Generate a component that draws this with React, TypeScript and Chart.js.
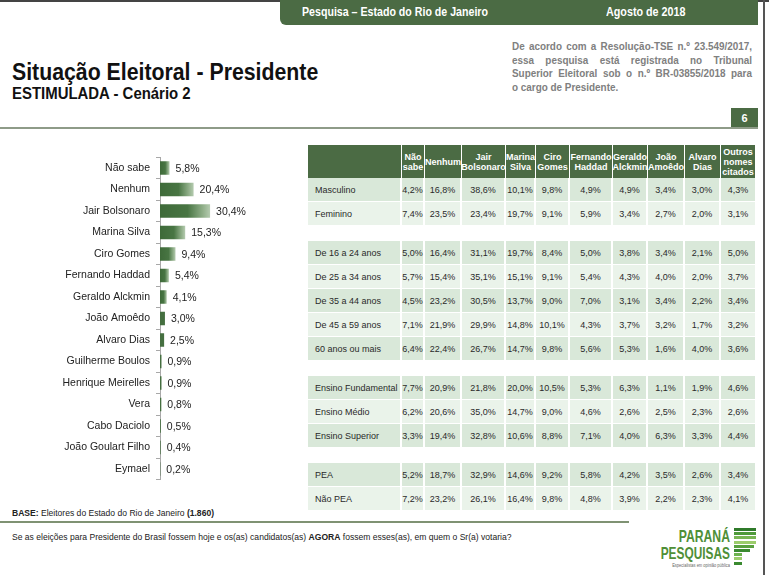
import React, { useEffect, useRef } from "react";
import { Chart, registerables } from "chart.js";

Chart.register(...registerables);

// ---------- DATA ----------
const candidates = [
  "Não sabe", "Nenhum", "Jair Bolsonaro", "Marina Silva", "Ciro Gomes",
  "Fernando Haddad", "Geraldo Alckmin", "João Amoêdo", "Alvaro Dias",
  "Guilherme Boulos", "Henrique Meirelles", "Vera", "Cabo Daciolo",
  "João Goulart Filho", "Eymael",
];
const totals = [5.8, 20.4, 30.4, 15.3, 9.4, 5.4, 4.1, 3.0, 2.5, 0.9, 0.9, 0.8, 0.5, 0.4, 0.2];

const tableHeaders = [
  "Não\nsabe", "Nenhum", "Jair\nBolsonaro", "Marina\nSilva", "Ciro\nGomes",
  "Fernando\nHaddad", "Geraldo\nAlckmin", "João\nAmoêdo", "Alvaro\nDias", "Outros\nnomes\ncitados",
];

const sexoLabels = ["Masculino", "Feminino"];
const sexoValues = [
  [4.2, 16.8, 38.6, 10.1, 9.8, 4.9, 4.9, 3.4, 3.0, 4.3],
  [7.4, 23.5, 23.4, 19.7, 9.1, 5.9, 3.4, 2.7, 2.0, 3.1],
];
const idadeLabels = ["De 16 a 24 anos", "De 25 a 34 anos", "De 35 a 44 anos", "De 45 a 59 anos", "60 anos ou mais"];
const idadeValues = [
  [5.0, 16.4, 31.1, 19.7, 8.4, 5.0, 3.8, 3.4, 2.1, 5.0],
  [5.7, 15.4, 35.1, 15.1, 9.1, 5.4, 4.3, 4.0, 2.0, 3.7],
  [4.5, 23.2, 30.5, 13.7, 9.0, 7.0, 3.1, 3.4, 2.2, 3.4],
  [7.1, 21.9, 29.9, 14.8, 10.1, 4.3, 3.7, 3.2, 1.7, 3.2],
  [6.4, 22.4, 26.7, 14.7, 9.8, 5.6, 5.3, 1.6, 4.0, 3.6],
];
const ensinoLabels = ["Ensino Fundamental", "Ensino Médio", "Ensino Superior"];
const ensinoValues = [
  [7.7, 20.9, 21.8, 20.0, 10.5, 5.3, 6.3, 1.1, 1.9, 4.6],
  [6.2, 20.6, 35.0, 14.7, 9.0, 4.6, 2.6, 2.5, 2.3, 2.6],
  [3.3, 19.4, 32.8, 10.6, 8.8, 7.1, 4.0, 6.3, 3.3, 4.4],
];
const peaLabels = ["PEA", "Não PEA"];
const peaValues = [
  [5.2, 18.7, 32.9, 14.6, 9.2, 5.8, 4.2, 3.5, 2.6, 3.4],
  [7.2, 23.2, 26.1, 16.4, 9.8, 4.8, 3.9, 2.2, 2.3, 4.1],
];

const groups = [
  { labels: sexoLabels, values: sexoValues },
  { labels: idadeLabels, values: idadeValues },
  { labels: ensinoLabels, values: ensinoValues },
  { labels: peaLabels, values: peaValues },
];

// ---------- STYLE ----------
const GREEN = "#4b6b44";
const SANS = '"Liberation Sans", Arial, sans-serif';
const colWidths = [94, 23, 37, 44, 30, 34, 43, 35, 37, 36, 34];
const TABLE_LEFT = 308;
const HEADER_TOP = 145;
const HEADER_H = 33;
const ROW_H = 24;
const GROUP_GAP = 15;

const fmt = (v: number) => v.toFixed(1).replace(".", ",") + "%";

function Squeezed(props: { left: number; top: number; size: number; sx: number; bold?: boolean; color?: string; lh?: number; origin?: string; children: React.ReactNode; style?: React.CSSProperties }) {
  return (
    <div
      style={{
        position: "absolute", left: props.left, top: props.top, fontFamily: SANS,
        fontWeight: props.bold ? "bold" : "normal", fontSize: props.size,
        lineHeight: `${props.lh ?? Math.round(props.size * 1.2)}px`, color: props.color ?? "#222",
        whiteSpace: "nowrap", transform: `scaleX(${props.sx})`, transformOrigin: props.origin ?? "left center",
        ...props.style,
      }}
    >
      {props.children}
    </div>
  );
}

function BarChart() {
  const ref = useRef<HTMLCanvasElement>(null);
  useEffect(() => {
    if (!ref.current) return;
    const valueLabels = {
      id: "valueLabels",
      afterDatasetsDraw(chart: any) {
        const ctx = chart.ctx;
        const meta = chart.getDatasetMeta(0);
        ctx.save();
        ctx.font = `10.5px ${SANS}`;
        ctx.fillStyle = "#222";
        ctx.textBaseline = "middle";
        ctx.textAlign = "left";
        meta.data.forEach((bar: any, i: number) => {
          ctx.fillText(fmt(totals[i]), bar.x + 6, bar.y + 1);
        });
        ctx.restore();
      },
    };
    const chart = new Chart(ref.current, {
      type: "bar",
      data: {
        labels: candidates,
        datasets: [
          {
            data: totals,
            borderWidth: 0,
            barPercentage: 0.63,
            categoryPercentage: 1,
            backgroundColor: (c: any) => {
              const ch = c.chart;
              if (!ch.chartArea || !ch.scales.x) return "#456f40";
              const xs = ch.scales.x;
              const s = xs.getPixelForValue(0);
              const e = xs.getPixelForValue(c.raw as number);
              if (e - s < 6) return "#456f40";
              const g = ch.ctx.createLinearGradient(s, 0, e, 0);
              g.addColorStop(0, "#3e6a39");
              g.addColorStop(0.55, "#487543");
              g.addColorStop(0.85, "#8fae88");
              g.addColorStop(1, "#b5cbb0");
              return g;
            },
          },
        ],
      },
      options: {
        indexAxis: "y",
        animation: false,
        responsive: false,
        maintainAspectRatio: false,
        layout: { padding: { top: 10, bottom: 8, left: 0, right: 0 } },
        plugins: { legend: { display: false }, tooltip: { enabled: false } },
        scales: {
          x: { display: false, min: 0, max: 85 },
          y: {
            afterFit: (s: any) => {
              s.width = 160;
            },
            grid: {
              display: true,
              drawOnChartArea: false,
              offset: true,
              tickLength: 4,
              color: "#a8a8a8",
            },
            border: { display: true, color: "#a8a8a8", width: 1 },
            ticks: {
              padding: 6,
              color: "#222",
              font: { size: 10.5, family: SANS },
            },
          },
        },
      },
      plugins: [valueLabels],
    });
    return () => chart.destroy();
  }, []);
  return (
    <canvas
      ref={ref}
      width={300}
      height={347}
      style={{ position: "absolute", left: 0, top: 145, width: 300, height: 347 }}
    />
  );
}

function DataTable() {
  const cells: React.ReactNode[] = [];
  let x = TABLE_LEFT;
  colWidths.forEach((w, ci) => {
    const text = ci === 0 ? "" : tableHeaders[ci - 1];
    cells.push(
      <div
        key={`h${ci}`}
        style={{
          position: "absolute", left: x, top: HEADER_TOP, width: w - (ci === colWidths.length - 1 ? 0 : 1),
          height: HEADER_H, background: GREEN, color: "#fff", fontFamily: SANS, fontWeight: "bold",
          fontSize: 9, lineHeight: "10px", display: "flex", alignItems: "center", justifyContent: "center",
          textAlign: "center", whiteSpace: "pre",
        }}
      >
        {text}
      </div>
    );
    x += w;
  });
  let y = HEADER_TOP + HEADER_H;
  groups.forEach((g, gi) => {
    g.labels.forEach((label, ri) => {
      const bg = ri % 2 === 0 ? "#d9e8d9" : "#eaf3ea";
      let cx = TABLE_LEFT;
      colWidths.forEach((w, ci) => {
        const txt = ci === 0 ? label : fmt(g.values[ri][ci - 1]);
        cells.push(
          <div
            key={`r${gi}-${ri}-${ci}`}
            style={{
              position: "absolute", left: cx, top: y, width: w - (ci === colWidths.length - 1 ? 0 : 2),
              height: ROW_H - 1, background: bg, color: "#2a2a2a", fontFamily: SANS, fontSize: 9,
              display: "flex", alignItems: "center", justifyContent: ci === 0 ? "flex-start" : "center",
              paddingLeft: ci === 0 ? 7 : 0, boxSizing: "border-box", whiteSpace: "nowrap",
            }}
          >
            {txt}
          </div>
        );
        cx += w;
      });
      y += ROW_H;
    });
    y += GROUP_GAP;
  });
  return <>{cells}</>;
}

function Logo() {
  const stripes = [
    { w: 22, c: "#2f7a2a" }, { w: 22, c: "#4f9a3a" }, { w: 22, c: "#79b654" },
    { w: 22, c: "#9ccc6c" }, { w: 20, c: "#5aa040" }, { w: 16, c: "#3a8a30" },
    { w: 8, c: "#6db24e" }, { w: 8, c: "#9ccc6c" }, { w: 8, c: "#3a8a30" },
  ];
  return (
    <>
      <Squeezed left={630} top={528} size={16.5} sx={0.74} bold color="#4f8f37" lh={16} origin="right center" style={{ width: 100, textAlign: "right" }}>
        PARANÁ
      </Squeezed>
      <Squeezed left={630} top={545} size={16.5} sx={0.72} bold color="#4f8f37" lh={16} origin="right center" style={{ width: 100, textAlign: "right" }}>
        PESQUISAS
      </Squeezed>
      <Squeezed left={630} top={563} size={5} sx={0.8} color="#666" lh={5} origin="right center" style={{ width: 100, textAlign: "right" }}>
        Especialistas em opinião pública
      </Squeezed>
      {stripes.map((s, i) => (
        <div key={i} style={{ position: "absolute", left: 734, top: 528 + i * 4.2, width: s.w, height: 3, background: s.c }} />
      ))}
    </>
  );
}

export default function App() {
  const paragraph = [
    "De acordo com a Resolução-TSE n.º 23.549/2017,",
    "essa pesquisa está registrada no Tribunal",
    "Superior Eleitoral sob o n.º BR-03855/2018 para",
    "o cargo de Presidente.",
  ];
  const pScale = 0.9;
  return (
    <div style={{ position: "fixed", left: 0, top: 0, width: 769, height: 575, background: "#fff", overflow: "hidden" }}>
      {/* frame */}
      <div style={{ position: "absolute", left: 0, top: 0, width: 769, height: 2, background: "#444" }} />
      <div style={{ position: "absolute", left: 763, top: 0, width: 2, height: 575, background: "#555" }} />
      {/* header tab */}
      <div style={{ position: "absolute", left: 280, top: 0, width: 478, height: 25, background: GREEN, borderBottomLeftRadius: 6 }} />
      <Squeezed left={302} top={5} size={12.5} sx={0.85} bold color="#fff" lh={15}>
        Pesquisa – Estado do Rio de Janeiro
      </Squeezed>
      <Squeezed left={606} top={5} size={12.5} sx={0.86} bold color="#fff" lh={15}>
        Agosto de 2018
      </Squeezed>
      {/* titles */}
      <Squeezed left={12} top={58} size={23} sx={0.925} bold color="#111" lh={28}>
        Situação Eleitoral - Presidente
      </Squeezed>
      <Squeezed left={12} top={84} size={16.5} sx={0.905} bold color="#111" lh={19}>
        ESTIMULADA - Cenário 2
      </Squeezed>
      {paragraph.map((line, i) => (
        <div
          key={i}
          style={{
            position: "absolute", left: 512, top: 39 + i * 13.5, width: 240 / pScale, fontFamily: SANS, fontWeight: "bold",
            fontSize: 11, lineHeight: "14px", color: "#808080", whiteSpace: "nowrap",
            textAlign: "justify", textAlignLast: i < paragraph.length - 1 ? "justify" : "left",
            transform: `scaleX(${pScale})`, transformOrigin: "left center",
          }}
        >
          {line}
        </div>
      ))}
      {/* page number */}
      <div style={{ position: "absolute", left: 731, top: 108, width: 27, height: 20, background: GREEN, color: "#fff", fontFamily: SANS, fontWeight: "bold", fontSize: 11, display: "flex", alignItems: "center", justifyContent: "center" }}>
        6
      </div>
      <div style={{ position: "absolute", left: 0, top: 127, width: 758, height: 2, background: "#8e9b88" }} />

      <BarChart />
      <DataTable />

      {/* footer */}
      <Squeezed left={12} top={507} size={9.5} sx={0.9} lh={12}>
        <b>BASE:</b> Eleitores do Estado do Rio de Janeiro <b>(1.860)</b>
      </Squeezed>
      <div style={{ position: "absolute", left: 0, top: 521, width: 629, height: 2, background: "#7f9273" }} />
      <Squeezed left={12} top={531} size={9.5} sx={0.9} lh={12}>
        Se as eleições para Presidente do Brasil fossem hoje e os(as) candidatos(as) <b>AGORA</b> fossem esses(as), em quem o Sr(a) votaria?
      </Squeezed>
      <Logo />
    </div>
  );
}
